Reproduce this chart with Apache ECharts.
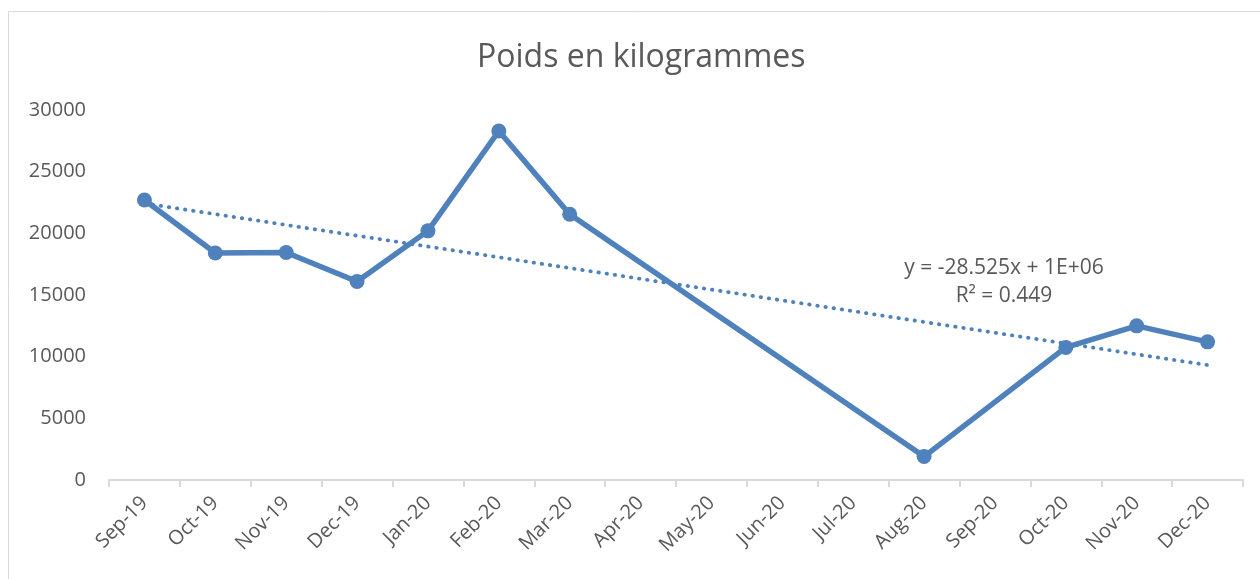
<!DOCTYPE html>
<html>
<head>
<meta charset="utf-8">
<script src="https://cdn.jsdelivr.net/npm/echarts@6/dist/echarts.min.js"></script>
<style>
html,body{margin:0;padding:0;background:#fff;}
#chart{width:1260px;height:579px;}
</style>
</head>
<body>
<div id="chart"></div>
<script>
const months = ['Sep-19','Oct-19','Nov-19','Dec-19','Jan-20','Feb-20','Mar-20','Apr-20','May-20','Jun-20','Jul-20','Aug-20','Sep-20','Oct-20','Nov-20','Dec-20'];
const weights = [22700, 18400, 18450, 16100, 20200, 28300, 21550, null, null, null, null, 1900, null, 10750, 12500, 11200];
const yTicks = [0, 5000, 10000, 15000, 20000, 25000, 30000];
const trendText = ['y = -28.525x + 1E+06', 'R² = 0.449'];

// Linear least-squares trend over the month index (as the spreadsheet trendline)
const pts = weights.map((v, i) => [i, v]).filter(p => p[1] != null);
const n = pts.length;
const mx = pts.reduce((s, p) => s + p[0], 0) / n;
const my = pts.reduce((s, p) => s + p[1], 0) / n;
let sxy = 0, sxx = 0;
pts.forEach(p => { sxy += (p[0] - mx) * (p[1] - my); sxx += (p[0] - mx) * (p[0] - mx); });
const slope = sxy / sxx, icpt = my - slope * mx;
const trend = months.map((m, i) => slope * i + icpt);

const blue = '#4f81bd';
const txt = '#595959';
const font = 'Open Sans';

const chart = echarts.init(document.getElementById('chart'));
chart.setOption({
  animation: false,
  backgroundColor: '#fff',
  title: {
    text: 'Poids en kilogrammes',
    left: 472,
    top: 37,
    textStyle: { color: txt, fontFamily: font, fontSize: 32, fontWeight: 'normal' }
  },
  grid: { left: 109, right: 17, top: 110, bottom: 99 },
  xAxis: {
    type: 'category',
    data: months,
    boundaryGap: true,
    axisLine: { lineStyle: { color: '#d9d9d9', width: 2 } },
    axisTick: { show: true, length: 7, lineStyle: { color: '#d9d9d9', width: 2 } },
    axisLabel: { rotate: 45, color: txt, fontFamily: font, fontSize: 20, margin: 20, interval: 0 },
    splitLine: { show: false }
  },
  yAxis: {
    type: 'value',
    min: yTicks[0],
    max: yTicks[yTicks.length - 1],
    interval: 5000,
    axisLine: { show: false },
    axisTick: { show: false },
    splitLine: { show: false },
    axisLabel: { color: txt, fontFamily: font, fontSize: 20, margin: 23, formatter: v => String(v) }
  },
  series: [
    {
      type: 'line',
      data: trend,
      symbol: 'none',
      silent: true,
      z: 1,
      lineStyle: { color: blue, width: 3.8, type: [0.5, 7.7], cap: 'round' }
    },
    {
      type: 'line',
      data: weights,
      connectNulls: true,
      symbol: 'circle',
      symbolSize: 15,
      z: 2,
      itemStyle: { color: blue },
      lineStyle: { color: blue, width: 5.5 }
    }
  ],
  graphic: [
    {
      type: 'rect',
      shape: { x: 8.5, y: 11.5, width: 1300, height: 700 },
      style: { fill: 'none', stroke: '#d9d9d9', lineWidth: 1 },
      silent: true
    },
    {
      type: 'text',
      x: 1004, y: 268,
      style: { text: trendText[0], fill: txt, font: '21px "Open Sans"', align: 'center', verticalAlign: 'middle' }
    },
    {
      type: 'text',
      x: 1004, y: 296,
      style: { text: trendText[1], fill: txt, font: '21px "Open Sans"', align: 'center', verticalAlign: 'middle' }
    }
  ]
});
</script>
</body>
</html>
